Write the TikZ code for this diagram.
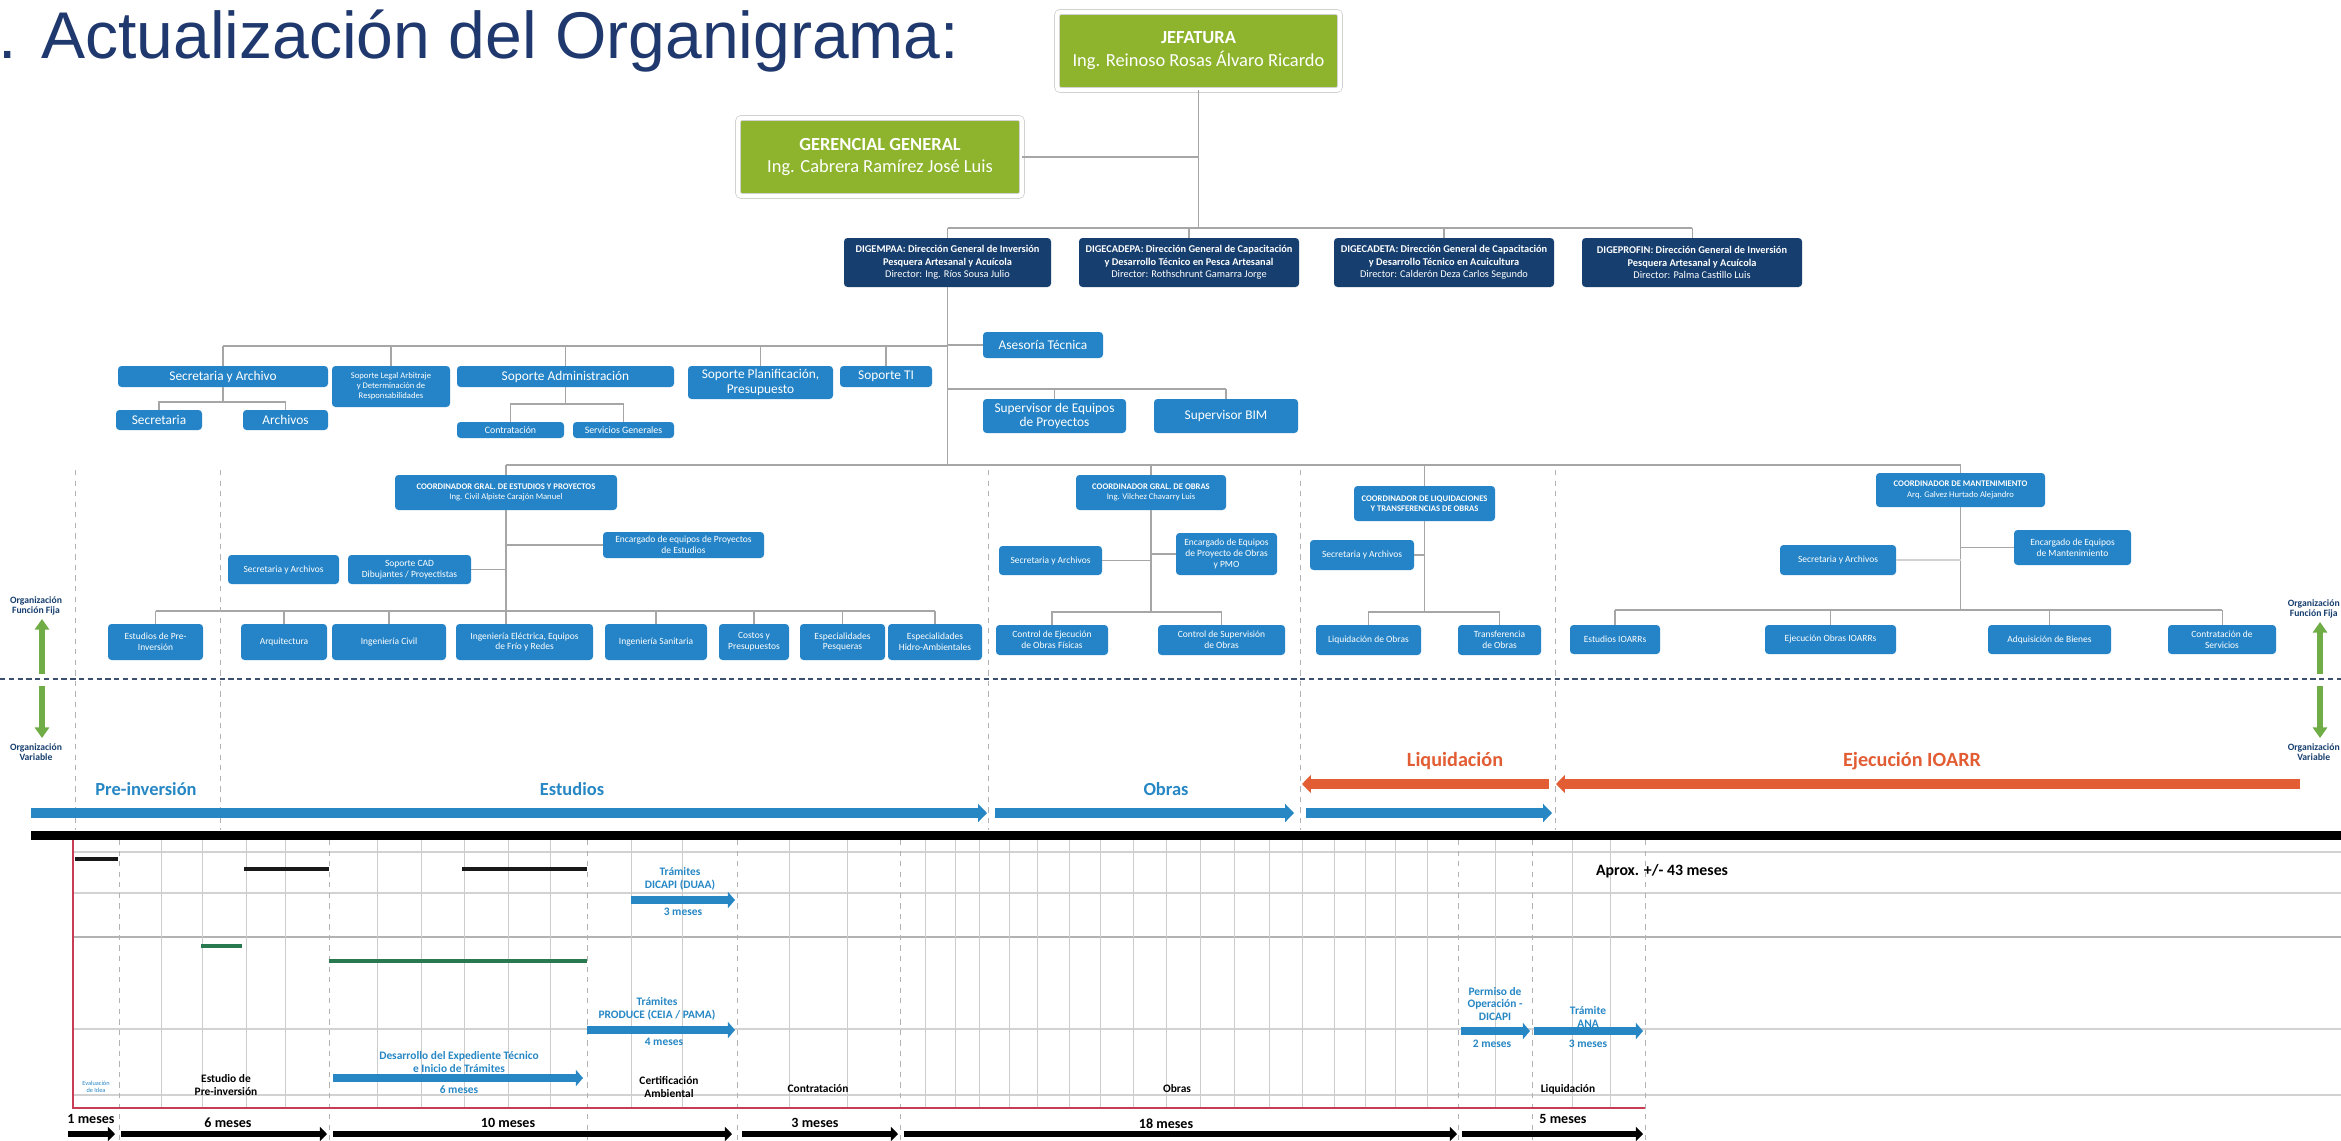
\documentclass[tikz,border=0pt]{standalone}
\usepackage{fontspec}
\setmainfont{Carlito}
\newfontfamily\titlefont{Liberation Sans}
\usetikzlibrary{arrows.meta}
\definecolor{orgblue}{RGB}{36,132,199}
\definecolor{dirnavy}{RGB}{22,62,110}
\definecolor{jefgreen}{RGB}{141,180,44}
\definecolor{phaseblue}{RGB}{38,135,196}
\definecolor{phaseorange}{RGB}{226,93,52}
\definecolor{arrowgreen}{RGB}{112,173,71}
\definecolor{titleblue}{RGB}{31,56,110}
\definecolor{framered}{RGB}{200,60,85}
\definecolor{dashblue}{RGB}{60,80,110}
\definecolor{ganttgreen}{RGB}{40,120,80}
\begin{document}
\begin{tikzpicture}[x=0.02cm,y=-0.02cm,
	box/.style n args={4}{at={({(#1+#3)/2},{(#2+#4)/2})},minimum width={(#3-#1)*0.02cm},minimum height={(#4-#2)*0.02cm}},
	ubox/.style={fill=orgblue,text=white,rounded corners=2pt,inner sep=0pt,align=center,font=\fontsize{5.4}{6.2}\selectfont},
	bigbox/.style={ubox,font=\fontsize{7.6}{8.2}\selectfont},
	sbox/.style={ubox,font=\fontsize{5.6}{6}\selectfont},
	cbox/.style={ubox,font=\fontsize{4.9}{6}\selectfont},
	dbox/.style={ubox,fill=dirnavy,font=\fontsize{5.9}{7}\selectfont},
	gbox/.style={ubox,fill=jefgreen,draw=gray!40,double=white,double distance=2.5pt,font=\fontsize{10.5}{13}\selectfont},
	tree/.style={draw=gray!70,line width=0.6pt},
	sep/.style={draw=gray!60,dashed,line width=0.5pt},
	phase/.style={line width=5.5pt,-{Triangle[length=5pt,width=10pt]}},
	tarrow/.style={phaseblue,line width=4.2pt,-{Triangle[length=4pt,width=9pt]}},
	barrow/.style={black,line width=3.4pt,-{Triangle[length=4pt,width=8pt]}},
	garrow/.style={arrowgreen,line width=3.2pt,-{Triangle[length=6pt,width=8pt]}},
	lbl/.style={font=\bfseries\fontsize{6.5}{7.3}\selectfont,align=center,inner sep=0pt},
	blbl/.style={lbl,text=phaseblue},
	side/.style={font=\bfseries\fontsize{5.5}{6}\selectfont,text=dirnavy,align=center,inner sep=0pt}]
	\fill[white] (0,0) rectangle (2341,1140);
	\useasboundingbox (0,0) rectangle (2341,1140);
	\node[anchor=base west,inner sep=0pt,text=titleblue,font=\titlefont\fontsize{37.6}{40}\selectfont] (title) at (-2,58) {. Actualización del Organigrama:};
	\node[gbox,box={1057}{12}{1340}{90}] (jef) {\textbf{JEFATURA}\\Ing. Reinoso Rosas Álvaro Ricardo};
	\node[gbox,box={738}{118}{1022}{196}] (ger) {\textbf{GERENCIAL GENERAL}\\Ing. Cabrera Ramírez José Luis};
	\node[dbox,box={844}{238}{1051}{287}] (d1) {\textbf{DIGEMPAA: Dirección General de Inversión}\\\textbf{Pesquera Artesanal y Acuícola}\\Director: Ing. Ríos Sousa Julio};
	\node[dbox,box={1079}{238}{1299}{287}] (d2) {\textbf{DIGECADEPA: Dirección General de Capacitación}\\\textbf{y Desarrollo Técnico en Pesca Artesanal}\\Director: Rothschrunt Gamarra Jorge};
	\node[dbox,box={1334}{238}{1554}{287}] (d3) {\textbf{DIGECADETA: Dirección General de Capacitación}\\\textbf{y Desarrollo Técnico en Acuicultura}\\Director: Calderón Deza Carlos Segundo};
	\node[dbox,box={1582}{238}{1802}{287}] (d4) {\textbf{DIGEPROFIN: Dirección General de Inversión}\\\textbf{Pesquera Artesanal y Acuícola}\\Director: Palma Castillo Luis};
	\coordinate (dbus) at (0,228);
	\draw[tree] (jef.south) -- (jef.south |- dbus);
	\draw[tree] (ger.east) -- (ger.east -| jef.south);
	\draw[tree] (d1.north |- dbus) -- (d4.north |- dbus);
	\foreach \n in {d1,d2,d3,d4}
	\draw[tree] (\n.north) -- (\n.north |- dbus);
	\node[bigbox,box={118}{366}{328}{387}] (sa) {Secretaria y Archivo};
	\node[ubox,font=\fontsize{4.9}{5.6}\selectfont,box={332}{366}{450}{407}] (legal) {Soporte Legal Arbitraje\\y Determinación de\\Responsabilidades};
	\node[bigbox,box={457}{366}{674}{387}] (adm) {Soporte Administración};
	\node[bigbox,box={688}{366}{833}{399}] (plan) {Soporte Planificación,\\Presupuesto};
	\node[bigbox,box={840}{366}{932}{387}] (ti) {Soporte TI};
	\node[bigbox,box={116}{410}{202}{430}] (sec) {Secretaria};
	\node[bigbox,box={243}{410}{328}{430}] (arc) {Archivos};
	\node[sbox,box={457}{422}{564}{438}] (con) {Contratación};
	\node[sbox,box={573}{422}{674}{438}] (ser) {Servicios Generales};
	\node[bigbox,box={983}{332}{1103}{358}] (ase) {Asesoría Técnica};
	\node[bigbox,box={983}{399}{1126}{433}] (sup1) {Supervisor de Equipos\\de Proyectos};
	\node[bigbox,box={1154}{399}{1298}{433}] (sup2) {Supervisor BIM};
	\coordinate (sbus) at (0,346);
	\coordinate (supbus) at (0,389);
	\coordinate (sabus) at (0,402);
	\coordinate (admbus) at (0,404);
	\coordinate (cbus) at (0,465);
	\draw[tree] (d1.south) -- (d1.south |- cbus);
	\draw[tree] (sa.north |- sbus) -- (d1.south |- sbus);
	\foreach \n in {sa,legal,adm,plan,ti}
	\draw[tree] (\n.north) -- (\n.north |- sbus);
	\draw[tree] (ase.west) -- (ase.west -| d1.south);
	\draw[tree] (d1.south |- supbus) -- (sup2.north |- supbus);
	\draw[tree] (sup1.north) -- (sup1.north |- supbus);
	\draw[tree] (sup2.north) -- (sup2.north |- supbus);
	\draw[tree] (sa.south) -- (sa.south |- sabus);
	\draw[tree] (sec.north) |- (arc.north |- sabus) -- (arc.north);
	\draw[tree] (adm.south) -- (adm.south |- admbus);
	\draw[tree] (con.north) |- (ser.north |- admbus) -- (ser.north);
	\node[cbox,box={395}{475}{617}{510}] (ce) {\textbf{COORDINADOR GRAL. DE ESTUDIOS Y PROYECTOS}\\Ing. Civil Alpiste Carajón Manuel};
	\node[cbox,box={1076}{475}{1226}{510}] (co) {\textbf{COORDINADOR GRAL. DE OBRAS}\\Ing. Vilchez Chavarry Luis};
	\node[cbox,box={1354}{486}{1495}{521}] (cl) {\textbf{COORDINADOR DE LIQUIDACIONES}\\\textbf{Y TRANSFERENCIAS DE OBRAS}};
	\node[cbox,box={1876}{473}{2045}{507}] (cm) {\textbf{COORDINADOR DE MANTENIMIENTO}\\Arq. Galvez Hurtado Alejandro};
	\draw[tree] (ce.north |- cbus) -- (cm.north |- cbus);
	\foreach \n in {ce,co,cl,cm}
	\draw[tree] (\n.north) -- (\n.north |- cbus);
	\node[ubox,box={603}{532}{764}{558}] (enc1) {Encargado de equipos de Proyectos\\de Estudios};
	\node[ubox,box={228}{555}{339}{584}] (sa2) {Secretaria y Archivos};
	\node[ubox,box={348}{555}{471}{584}] (cad) {Soporte CAD\\Dibujantes / Proyectistas};
	\node[ubox,box={108}{624}{203}{660}] (e1) {Estudios de Pre-\\Inversión};
	\node[ubox,box={241}{624}{327}{660}] (e2) {Arquitectura};
	\node[ubox,box={332}{624}{446}{660}] (e3) {Ingeniería Civil};
	\node[ubox,box={456}{624}{593}{660}] (e4) {Ingeniería Eléctrica, Equipos\\de Frío y Redes};
	\node[ubox,box={605}{624}{707}{660}] (e5) {Ingeniería Sanitaria};
	\node[ubox,box={719}{624}{789}{660}] (e6) {Costos y\\Presupuestos};
	\node[ubox,box={800}{624}{885}{660}] (e7) {Especialidades\\Pesqueras};
	\node[ubox,box={888}{624}{982}{660}] (e8) {Especialidades\\Hidro-Ambientales};
	\coordinate (ebus) at (0,611);
	\draw[tree] (ce.south) -- (ce.south |- e4.north);
	\draw[tree] (enc1.west -| ce.south) -- (enc1.west);
	\draw[tree] (cad.east) -- (cad.east -| ce.south);
	\draw[tree] (e1.north |- ebus) -- (e8.north |- ebus);
	\foreach \n in {e1,e2,e3,e5,e6,e7,e8}
	\draw[tree] (\n.north) -- (\n.north |- ebus);
	\node[ubox,box={999}{546}{1102}{575}] (sa3) {Secretaria y Archivos};
	\node[ubox,box={1176}{533}{1277}{575}] (enc2) {Encargado de Equipos\\de Proyecto de Obras\\y PMO};
	\node[ubox,box={996}{625}{1108}{655}] (o1) {Control de Ejecución\\de Obras Físicas};
	\node[ubox,box={1158}{625}{1285}{655}] (o2) {Control de Supervisión\\de Obras};
	\coordinate (obus) at (0,612);
	\draw[tree] (co.south) -- (co.south |- obus);
	\draw[tree] (sa3.east) -- (sa3.east -| co.south);
	\draw[tree] (enc2.west) -- (enc2.west -| co.south);
	\draw[tree] (o1.north) |- (o2.north |- obus) -- (o2.north);
	\node[ubox,box={1310}{540}{1414}{570}] (sa4) {Secretaria y Archivos};
	\node[ubox,box={1316}{625}{1421}{655}] (l1) {Liquidación de Obras};
	\node[ubox,box={1458}{625}{1541}{655}] (l2) {Transferencia\\de Obras};
	\draw[tree] (cl.south) -- (cl.south |- obus);
	\draw[tree] (sa4.east) -- (sa4.east -| cl.south);
	\draw[tree] (l1.north) |- (l2.north |- obus) -- (l2.north);
	\node[ubox,box={2014}{530}{2131}{565}] (enc3) {Encargado de Equipos\\de Mantenimiento};
	\node[ubox,box={1780}{545}{1896}{575}] (sa5) {Secretaria y Archivos};
	\node[ubox,box={1570}{625}{1660}{654}] (m1) {Estudios IOARRs};
	\node[ubox,box={1765}{625}{1896}{654}] (m2) {Ejecución Obras IOARRs};
	\node[ubox,box={1988}{625}{2111}{654}] (m3) {Adquisición de Bienes};
	\node[ubox,box={2168}{625}{2276}{654}] (m4) {Contratación de\\Servicios};
	\coordinate (mbus) at (0,610);
	\draw[tree] (cm.south) -- (cm.south |- mbus);
	\draw[tree] (enc3.west) -- (enc3.west -| cm.south);
	\draw[tree,gray!35] (sa5.east) -- (sa5.east -| cm.south);
	\draw[tree] (m1.north |- mbus) -- (m4.north |- mbus);
	\foreach \n in {m1,m2,m3,m4}
	\draw[tree] (\n.north) -- (\n.north |- mbus);
	\foreach \x in {75,220,988,1300,1555}
	\draw[sep] (\x,470) -- (\x,830);
	\draw[dashblue,line width=1.3pt,dash pattern=on 3pt off 2pt] (0,679) -- (2341,679);
	\node[side] (ffl) at (36,606) {Organización\\Función Fija};
	\node[side] (vl) at (36,752) {Organización\\Variable};
	\node[side,anchor=east] (ffr) at (2340,609) {Organización\\Función Fija};
	\node[side,anchor=east] (vr) at (2340,752) {Organización\\Variable};
	\draw[garrow] (42,674) -- (42,619);
	\draw[garrow] (42,686) -- (42,738);
	\draw[garrow] (2320,674) -- (2320,622);
	\draw[garrow] (2320,686) -- (2320,738);
	\draw[phase,phaseblue] (31,813) -- (987,813);
	\draw[phase,phaseblue] (995,813) -- (1294,813);
	\draw[phase,phaseblue] (1306,813) -- (1552,813);
	\draw[phase,phaseorange] (1549,784) -- (1302,784);
	\draw[phase,phaseorange] (2300,784) -- (1556,784);
	\node[text=phaseblue,font=\bfseries\fontsize{10.5}{12}\selectfont] (tpre) at (146,789) {Pre-inversión};
	\node[text=phaseblue,font=\bfseries\fontsize{10.5}{12}\selectfont] (test) at (572,789) {Estudios};
	\node[text=phaseblue,font=\bfseries\fontsize{10.5}{12}\selectfont] (tobr) at (1166,789) {Obras};
	\node[text=phaseorange,font=\bfseries\fontsize{11.5}{13}\selectfont] (tliq) at (1455,761) {Liquidación};
	\node[text=phaseorange,font=\bfseries\fontsize{11.5}{13}\selectfont] (teje) at (1912,761) {Ejecución IOARR};
	\fill[black] (31,831) rectangle (2341,840);
	\foreach \y in {852,893,1029,1095}
	\draw[gray!35,line width=0.6pt] (73,\y) -- (2341,\y);
	\draw[gray!60,line width=0.8pt] (73,937) -- (2341,937);
	\foreach \x in {161,202,246,285,377,421,464,508,550,631,682,789,847,925,955,979,1009,1037,1069,1100,1133,1166,1200,1234,1269,1302,1334,1365,1395,1427,1495,1572,1610}
	\draw[gray!40,line width=0.5pt] (\x,840) -- (\x,1108);
	\foreach \x in {119,329,587,737,900,1458,1532,1645}
	\draw[sep] (\x,840) -- (\x,1140);
	\draw[framered,line width=1.2pt] (73,840) -- (73,1108) -- (1645,1108);
	\draw[gray!20!black,line width=1.8pt] (75,859) -- (118,859) (244,869) -- (329,869) (462,869) -- (587,869);
	\draw[ganttgreen,line width=1.8pt] (201,946) -- (242,946) (329,961) -- (587,961);
	\draw[tarrow] (631,900) -- (735,900);
	\draw[tarrow] (587,1030) -- (735,1030);
	\draw[tarrow] (333,1078) -- (583,1078);
	\draw[tarrow] (1461,1031) -- (1530,1031);
	\draw[tarrow] (1534,1031) -- (1643,1031);
	\node[blbl] (dic) at (680,879) {Trámites\\DICAPI (DUAA)};
	\node[blbl] (dicm) at (683,912) {3 meses};
	\node[blbl] (pro) at (657,1009) {Trámites\\PRODUCE (CEIA / PAMA)};
	\node[blbl] (prom) at (664,1042) {4 meses};
	\node[blbl] (des) at (459,1062) {Desarrollo del Expediente Técnico\\e Inicio de Trámites};
	\node[blbl] (desm) at (459,1090) {6 meses};
	\node[blbl] (per) at (1495,1004) {Permiso de\\Operación -\\DICAPI};
	\node[blbl] (perm) at (1492,1044) {2 meses};
	\node[blbl] (ana) at (1588,1017) {Trámite\\ANA};
	\node[blbl] (anam) at (1588,1044) {3 meses};
	\node[blbl,font=\fontsize{3.6}{4.2}\selectfont] (eva) at (96,1087) {Evaluación\\de Idea};
	\node[lbl] (est) at (226,1085) {Estudio de\\Pre-inversión};
	\node[lbl] (cer) at (669,1087) {Certificación\\Ambiental};
	\node[lbl] (cont) at (818,1089) {Contratación};
	\node[lbl] (obr) at (1177,1089) {Obras};
	\node[lbl] (liq) at (1568,1089) {Liquidación};
	\node[lbl,font=\bfseries\fontsize{9}{10}\selectfont] (apx) at (1662,871) {Aprox. +/- 43 meses};
	\node[lbl,font=\bfseries\fontsize{8}{9}\selectfont] (m01) at (91,1119) {1 meses};
	\node[lbl,font=\bfseries\fontsize{8}{9}\selectfont] (m06) at (228,1123) {6 meses};
	\node[lbl,font=\bfseries\fontsize{8}{9}\selectfont] (m10) at (508,1123) {10 meses};
	\node[lbl,font=\bfseries\fontsize{8}{9}\selectfont] (m03) at (815,1123) {3 meses};
	\node[lbl,font=\bfseries\fontsize{8}{9}\selectfont] (m18) at (1166,1124) {18 meses};
	\node[lbl,font=\bfseries\fontsize{8}{9}\selectfont] (m05) at (1563,1119) {5 meses};
	\foreach \a/\b in {68/115,121/327,333/732,742/898,904/1457,1462/1643}
	\draw[barrow] (\a,1134) -- (\b,1134);
\end{tikzpicture}
\end{document}
